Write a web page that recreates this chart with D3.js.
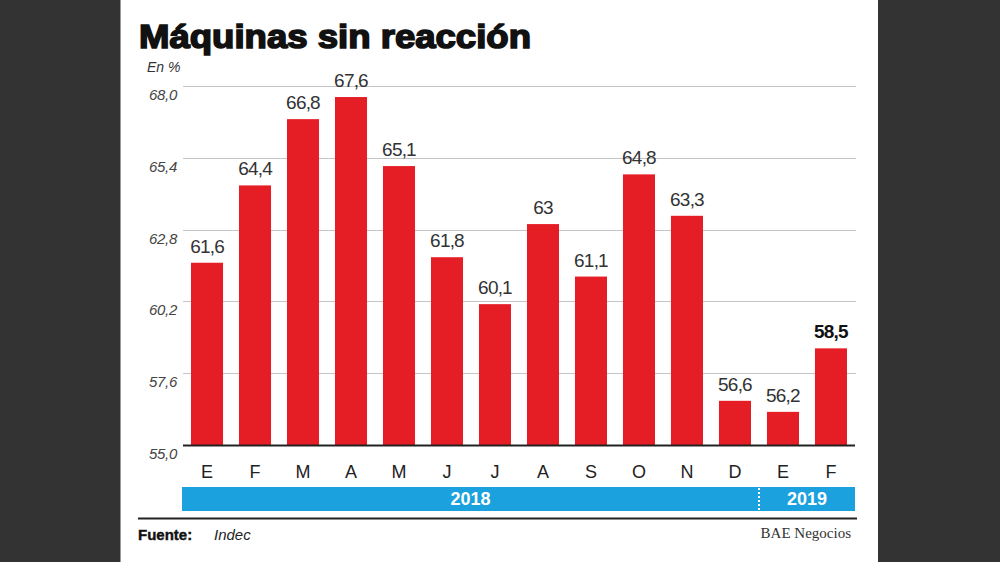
<!DOCTYPE html>
<html>
<head>
<meta charset="utf-8">
<script src="https://cdn.jsdelivr.net/npm/d3@7"></script>
<style>
  html, body { margin: 0; padding: 0; background: #333333; }
  svg { display: block; }
</style>
</head>
<body>
<div id="chart"></div>
<script>
// data
var months = ["E", "F", "M", "A", "M", "J", "J", "A", "S", "O", "N", "D", "E", "F"];
var values = [61.6, 64.4, 66.8, 67.6, 65.1, 61.8, 60.1, 63, 61.1, 64.8, 63.3, 56.6, 56.2, 58.5];
var labels = ["61,6", "64,4", "66,8", "67,6", "65,1", "61,8", "60,1", "63", "61,1", "64,8", "63,3", "56,6", "56,2", "58,5"];
var yTicks = [55.0, 57.6, 60.2, 62.8, 65.4, 68.0];
var years = ["2018", "2019"];
var yearCounts = [12, 2];

var svg = d3.select("#chart")
  .append("svg")
  .attr("width", 1000)
  .attr("height", 562);

// white panel
svg.append("rect")
  .attr("x", 120).attr("y", 0)
  .attr("width", 758).attr("height", 562)
  .attr("fill", "#ffffff");
svg.append("line")
  .attr("x1", 120.5).attr("x2", 120.5).attr("y1", 0).attr("y2", 562)
  .attr("stroke", "#999").attr("stroke-width", 1);

// title
svg.append("text")
  .attr("x", 139).attr("y", 48)
  .attr("font-family", "Liberation Sans, Arial, sans-serif")
  .attr("font-weight", "bold")
  .attr("font-size", 33)
  .attr("fill", "#111")
  .attr("stroke", "#111").attr("stroke-width", 1.6)
  .attr("textLength", 392)
  .attr("lengthAdjust", "spacingAndGlyphs")
  .text("Máquinas sin reacción");

svg.append("text")
  .attr("x", 147).attr("y", 72)
  .attr("font-family", "Liberation Sans, Arial, sans-serif")
  .attr("font-style", "italic")
  .attr("font-size", 14)
  .attr("fill", "#333")
  .text("En %");

// scales
var x = d3.scaleBand()
  .domain(d3.range(months.length))
  .range([183, 855])
  .paddingInner(0.333)
  .paddingOuter(0.167);

var y = d3.scaleLinear()
  .domain([55, 68])
  .range([445, 86]);

// gridlines + tick labels
var grid = svg.append("g");
grid.selectAll("line")
  .data(yTicks.slice(1))
  .join("line")
  .attr("x1", 183).attr("x2", 856)
  .attr("y1", function (d) { return Math.round(y(d)) + 0.5; })
  .attr("y2", function (d) { return Math.round(y(d)) + 0.5; })
  .attr("stroke", "#c4c4c4").attr("stroke-width", 1);

grid.selectAll("text")
  .data(yTicks)
  .join("text")
  .attr("x", 177)
  .attr("y", function (d) { return y(d) + 14; })
  .attr("text-anchor", "end")
  .attr("font-family", "Liberation Sans, Arial, sans-serif")
  .attr("font-style", "italic")
  .attr("font-size", 15)
  .attr("fill", "#444")
  .attr("letter-spacing", -0.3)
  .text(function (d) { return d3.format(".1f")(d).replace(".", ","); });

// bars
svg.append("g")
  .selectAll("rect")
  .data(values)
  .join("rect")
  .attr("x", function (d, i) { return x(i); })
  .attr("y", function (d) { return y(d); })
  .attr("width", x.bandwidth())
  .attr("height", function (d) { return y(55) - y(d); })
  .attr("fill", "#e51d25");

// value labels
svg.append("g")
  .selectAll("text")
  .data(values)
  .join("text")
  .attr("x", function (d, i) { return x(i) + x.bandwidth() / 2; })
  .attr("y", function (d) { return y(d) - 10; })
  .attr("text-anchor", "middle")
  .attr("font-family", "Liberation Sans, Arial, sans-serif")
  .attr("font-size", 19)
  .attr("font-weight", function (d, i) { return i === values.length - 1 ? "bold" : "normal"; })
  .attr("fill", function (d, i) { return i === values.length - 1 ? "#111" : "#333"; })
  .attr("letter-spacing", -0.8)
  .text(function (d, i) { return labels[i]; });

// baseline
svg.append("line")
  .attr("x1", 183).attr("x2", 855)
  .attr("y1", 445.5).attr("y2", 445.5)
  .attr("stroke", "#222").attr("stroke-width", 2);

// month labels
svg.append("g")
  .selectAll("text")
  .data(months)
  .join("text")
  .attr("x", function (d, i) { return x(i) + x.bandwidth() / 2; })
  .attr("y", 478)
  .attr("text-anchor", "middle")
  .attr("font-family", "Liberation Sans, Arial, sans-serif")
  .attr("font-size", 18)
  .attr("fill", "#222")
  .text(function (d) { return d; });

// year band
svg.append("rect")
  .attr("x", 182).attr("y", 487)
  .attr("width", 673).attr("height", 24)
  .attr("fill", "#1ba1dd");

var splitX = x(yearCounts[0]) - x.step() * x.paddingInner() / 2;
svg.append("line")
  .attr("x1", splitX).attr("x2", splitX)
  .attr("y1", 488).attr("y2", 510)
  .attr("stroke", "#fff").attr("stroke-width", 2)
  .attr("stroke-dasharray", "2,2");

var yearCenters = [
  (182 + splitX) / 2,
  (splitX + 855) / 2
];
svg.append("g")
  .selectAll("text")
  .data(years)
  .join("text")
  .attr("x", function (d, i) { return yearCenters[i]; })
  .attr("y", 505)
  .attr("text-anchor", "middle")
  .attr("font-family", "Liberation Sans, Arial, sans-serif")
  .attr("font-weight", "bold")
  .attr("font-size", 18)
  .attr("fill", "#fff")
  .text(function (d) { return d; });

// footer rule
svg.append("line")
  .attr("x1", 138).attr("x2", 857)
  .attr("y1", 518.5).attr("y2", 518.5)
  .attr("stroke", "#222").attr("stroke-width", 2);

svg.append("text")
  .attr("x", 138).attr("y", 540)
  .attr("font-family", "Liberation Sans, Arial, sans-serif")
  .attr("font-weight", "bold")
  .attr("font-size", 15)
  .attr("fill", "#111")
  .attr("stroke", "#111").attr("stroke-width", 0.4)
  .text("Fuente:");

svg.append("text")
  .attr("x", 214).attr("y", 540)
  .attr("font-family", "Liberation Sans, Arial, sans-serif")
  .attr("font-style", "italic")
  .attr("font-size", 15)
  .attr("fill", "#222")
  .text("Indec");

svg.append("text")
  .attr("x", 851).attr("y", 538)
  .attr("text-anchor", "end")
  .attr("font-family", "Liberation Serif, Times New Roman, serif")
  .attr("font-size", 15)
  .attr("fill", "#333")
  .text("BAE Negocios");
</script>
</body>
</html>
